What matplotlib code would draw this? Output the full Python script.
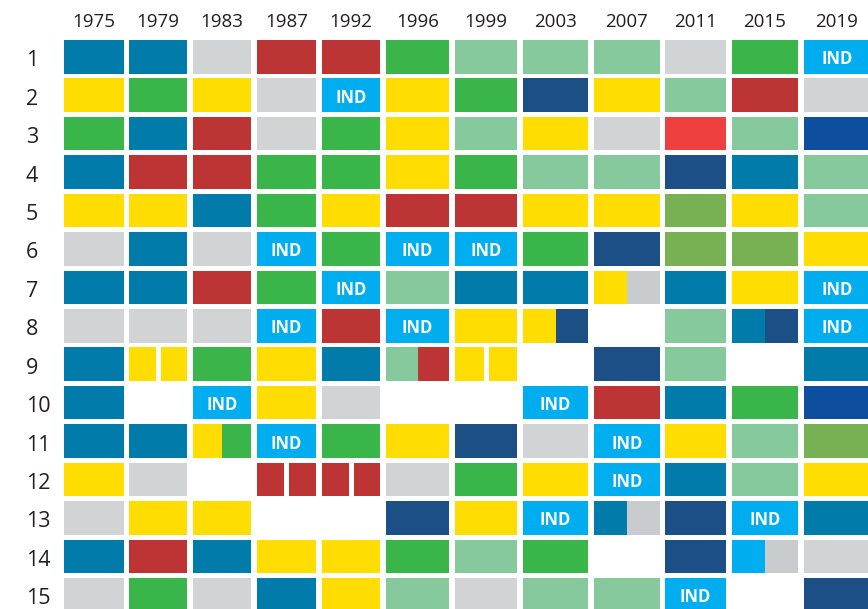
"""
Grid of coloured seat blocks per election year (rows 1-15).
"""

import matplotlib
matplotlib.use('Agg')
import matplotlib.pyplot as plt

years = ['1975', '1979', '1983', '1987', '1992', '1996',
         '1999', '2003', '2007', '2011', '2015', '2019']
row_labels = [str(n) for n in range(1, 16)]

# one string per row, one token per year
# '.' empty, 'A|B' split cell, 'A_B' two separate blocks, 'I' = IND
row_01 = 'T T G R R E L L L G E I'
row_02 = 'Y E Y G I Y E N Y L R G'
row_03 = 'E T R G E Y L Y G X L B'
row_04 = 'T R R E E Y E L L N T L'
row_05 = 'Y Y T E Y R R Y Y O Y L'
row_06 = 'G T G I E I I E N O O Y'
row_07 = 'T T R E I L T T Y|S T Y I'
row_08 = 'G G G I R I Y Y|N . L T|N I'
row_09 = 'T Y_Y E Y T L|R Y_Y . N L . T'
row_10 = 'T . I Y G . . I R T E B'
row_11 = 'T T Y|E I E Y N G I Y L O'
row_12 = 'Y G . R_R R_R G E Y I T L Y'
row_13 = 'G Y Y . . N Y I T|S N I T'
row_14 = 'T R T Y Y E L E . N i|S G'
row_15 = 'G E G T Y L G L L I . N'
rows = [row_01, row_02, row_03, row_04, row_05, row_06, row_07, row_08,
        row_09, row_10, row_11, row_12, row_13, row_14, row_15]

colors = {
    'T': '#007BAA',  # teal blue
    'R': '#BC3433',  # red
    'G': '#D1D3D4',  # grey
    'E': '#39B54A',  # green
    'Y': '#FFDD00',  # yellow
    'L': '#85C99C',  # light green
    'N': '#1B4F85',  # navy
    'I': '#00AEEF',  # independent
    'i': '#00AEEF',  # independent (no label)
    'S': '#C8CCCF',  # grey in split cells
    'O': '#78B154',  # olive
    'B': '#0D4F9E',  # royal blue
    'X': '#EF4040',  # bright red
}

# layout in pixels
col_left = [64, 129, 193, 257, 322, 386, 455, 523, 594, 665, 732, 804]
col_width = [60, 58, 58, 59, 58, 63, 62, 65, 66, 61, 66, 66]
row_top0 = 40
row_pitch = 38.43
cell_h = 33.5
gap = 5


def draw_block(ax, x, y, w, code):
    ax.bar(x, cell_h, width=w, bottom=y, align='edge',
           color=colors[code], linewidth=0)
    if code == 'I':
        ax.text(x + w / 2, y + cell_h / 2 + 0.5, 'IND', color='white',
                fontsize=12, fontweight='bold', family='Open Sans',
                ha='center', va='center_baseline')


def main():
    fig = plt.figure(figsize=(8.68, 6.09), dpi=100)
    ax = fig.add_axes([0, 0, 1, 1])
    ax.set_xlim(0, 868)
    ax.set_ylim(609, 0)
    ax.axis('off')

    for c, year in enumerate(years):
        ax.text(col_left[c] + col_width[c] / 2, 20, year, fontsize=13.5,
                family='Open Sans', color='#231F20', ha='center',
                va='center_baseline')

    for r, line in enumerate(rows):
        y = row_top0 + r * row_pitch
        ax.text(26, y + cell_h / 2 + 1.5, row_labels[r], fontsize=15.5,
                family='Open Sans', color='#231F20', ha='left',
                va='center_baseline')
        for c, tok in enumerate(line.split()):
            x, w = col_left[c], col_width[c]
            if tok == '.':
                continue
            if '|' in tok:
                a, b = tok.split('|')
                draw_block(ax, x, y, w / 2, a)
                draw_block(ax, x + w / 2, y, w / 2, b)
            elif '_' in tok:
                a, b = tok.split('_')
                half = (w - gap) / 2
                draw_block(ax, x, y, half, a)
                draw_block(ax, x + half + gap, y, half, b)
            else:
                draw_block(ax, x, y, w, tok)

    fig.savefig('out.png', dpi=100)
    plt.close(fig)


if __name__ == '__main__':
    main()
